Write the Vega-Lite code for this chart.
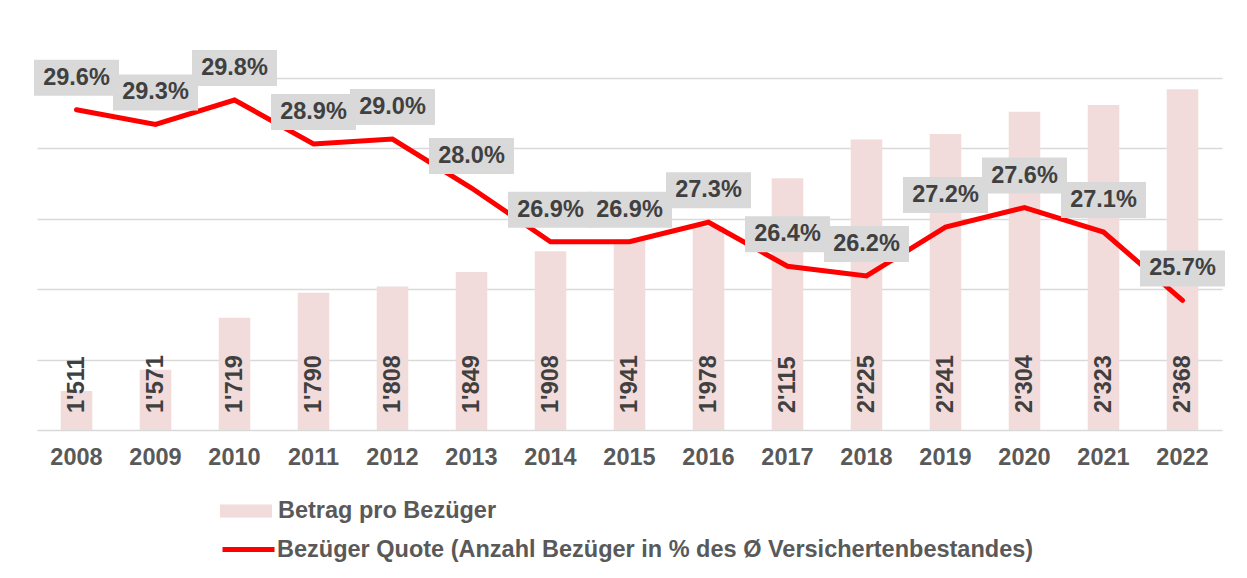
{
  "$schema": "https://vega.github.io/schema/vega-lite/v6.json",
  "width": 1185,
  "height": 352,
  "autosize": {"type": "none"},
  "padding": {"left": 37, "top": 78, "right": 25, "bottom": 148},
  "background": "white",
  "config": {
    "view": {"stroke": null},
    "font": "Liberation Sans",
    "locale": {"number": {"decimal": ".", "thousands": "'", "grouping": [3], "currency": ["", ""]}}
  },
  "data": {
    "values": [
      {"year": 2008, "betrag": 1511, "quote": 0.296},
      {"year": 2009, "betrag": 1571, "quote": 0.293},
      {"year": 2010, "betrag": 1719, "quote": 0.298},
      {"year": 2011, "betrag": 1790, "quote": 0.289},
      {"year": 2012, "betrag": 1808, "quote": 0.290},
      {"year": 2013, "betrag": 1849, "quote": 0.280},
      {"year": 2014, "betrag": 1908, "quote": 0.269},
      {"year": 2015, "betrag": 1941, "quote": 0.269},
      {"year": 2016, "betrag": 1978, "quote": 0.273},
      {"year": 2017, "betrag": 2115, "quote": 0.264},
      {"year": 2018, "betrag": 2225, "quote": 0.262},
      {"year": 2019, "betrag": 2241, "quote": 0.272},
      {"year": 2020, "betrag": 2304, "quote": 0.276},
      {"year": 2021, "betrag": 2323, "quote": 0.271},
      {"year": 2022, "betrag": 2368, "quote": 0.257}
    ]
  },
  "encoding": {
    "x": {
      "field": "year", "type": "ordinal", "title": null,
      "scale": {"paddingInner": 0.6, "paddingOuter": 0.3},
      "axis": {"labelAngle": 0, "ticks": false, "domain": false, "labelFontSize": 23.5, "labelFontWeight": "bold", "labelColor": "#595959", "labelPadding": 15, "labelFont": "Liberation Sans"}
    }
  },
  "layer": [
    {
      "mark": {"type": "bar"},
      "encoding": {
        "y": {"field": "betrag", "type": "quantitative", "title": null,
          "scale": {"domain": [1400, 2400], "zero": false, "nice": false},
          "axis": {"values": [1400, 1600, 1800, 2000, 2200, 2400], "labels": false, "ticks": false, "domain": false, "grid": true, "gridColor": "#D9D9D9", "gridWidth": 1.5}},
        "y2": {"datum": 1400},
        "fill": {"datum": "Betrag pro Bezüger", "scale": {"range": ["#F2DCDB"]},
          "legend": {"title": null, "orient": "none", "legendX": 183, "legendY": 407, "symbolType": "M-1,-0.25H1V0.25H-1Z", "symbolSize": 2704, "symbolStrokeWidth": 0, "labelFontSize": 23.5, "labelFontWeight": "bold", "labelColor": "#595959", "labelOffset": 6, "labelLimit": 0, "labelFont": "Liberation Sans"}}
      }
    },
    {
      "mark": {"type": "text", "angle": 270, "align": "left", "baseline": "middle", "yOffset": -17, "fontSize": 23.5, "fontWeight": "bold", "color": "#404040"},
      "encoding": {
        "y": {"datum": 1400, "type": "quantitative", "scale": {"domain": [1400, 2400], "zero": false, "nice": false}, "axis": null},
        "text": {"field": "betrag", "type": "quantitative", "format": ","}
      }
    },
    {
      "mark": {"type": "line", "strokeWidth": 5, "strokeCap": "round", "strokeJoin": "miter"},
      "encoding": {
        "y": {"field": "quote", "type": "quantitative", "scale": {"domain": [0.2305, 0.3025], "zero": false, "nice": false}, "axis": null},
        "stroke": {"datum": "Bezüger Quote (Anzahl Bezüger in % des Ø Versichertenbestandes)", "scale": {"range": ["#FF0000"]},
          "legend": {"title": null, "orient": "none", "legendX": 183, "legendY": 443, "symbolType": "stroke", "symbolSize": 2704, "symbolStrokeWidth": 5, "labelFontSize": 23.5, "labelFontWeight": "bold", "labelColor": "#595959", "labelOffset": 0, "labelLimit": 0, "labelFont": "Liberation Sans"}}
      }
    },
    {
      "mark": {"type": "point", "shape": "M-1,-0.4235H1V0.4235H-1Z", "size": 7225, "filled": true, "color": "#D9D9D9", "opacity": 1, "yOffset": -32},
      "encoding": {
        "y": {"field": "quote", "type": "quantitative", "scale": {"domain": [0.2305, 0.3025], "zero": false, "nice": false}, "axis": null}
      }
    },
    {
      "mark": {"type": "text", "yOffset": -32, "fontSize": 23.5, "fontWeight": "bold", "color": "#404040", "baseline": "middle", "align": "center"},
      "encoding": {
        "y": {"field": "quote", "type": "quantitative", "scale": {"domain": [0.2305, 0.3025], "zero": false, "nice": false}, "axis": null},
        "text": {"field": "quote", "type": "quantitative", "format": ".1%"}
      }
    }
  ],
  "resolve": {"scale": {"y": "independent"}}
}
